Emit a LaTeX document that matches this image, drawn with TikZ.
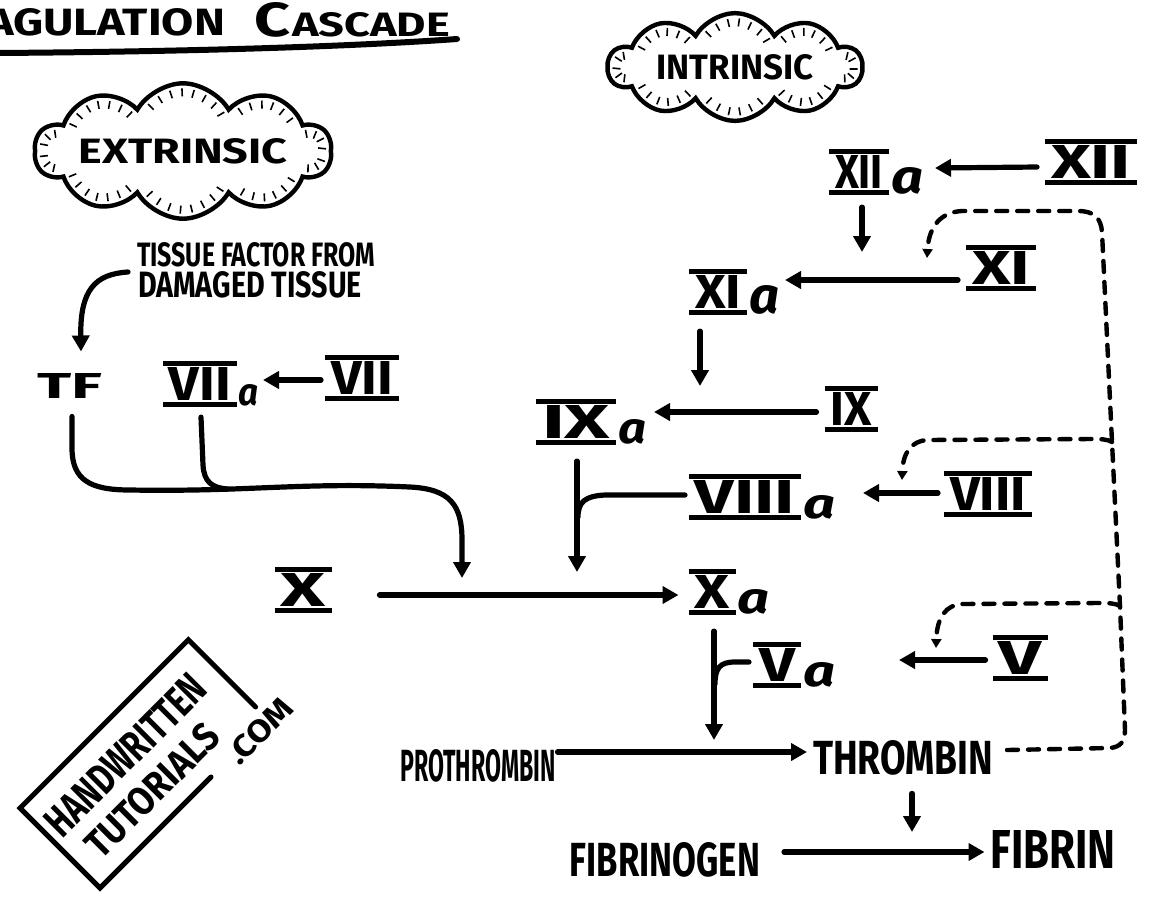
\documentclass[tikz,border=0pt]{standalone}
\usepackage{fontspec}
\setmainfont{Fira Sans}
\usetikzlibrary{arrows.meta,shapes.symbols,decorations.pathreplacing,calc}

% text squeezed into a box of given width and cap height
\newcommand\fit[3]{\resizebox{#1}{#2}{\bfseries #3}}
% roman numeral between two bars: bar width, letters
\newcommand\rmn[2]{\vbox{\hrule width #1 height 2.6pt\kern0.7pt\hbox to #1{\hss\resizebox{\dimexpr#1-6pt\relax}{16.5pt}{\bfseries #2}\hss}\kern0.7pt\hrule width #1 height 2.6pt}}
% activated factor: barred numeral, then a small "a" of given width and height
\newcommand\act[4]{\rmn{#1}{#2}\kern1pt\raisebox{1pt}{\resizebox{#3}{#4}{\bfseries\itshape a}}}

\begin{document}
\begin{tikzpicture}[x=0.5pt,y=-0.5pt,
  txt/.style={inner sep=0pt, outer sep=0pt},
  flow/.style={line width=2.6pt, line cap=round, -{Triangle[length=8pt,width=8.5pt]}},
  link/.style={line width=2.6pt, line cap=round},
  fb/.style={line width=2.2pt, line cap=round, dash pattern=on 5.5pt off 5pt, -{Triangle[length=4.5pt,width=5pt]}},
  cloudy/.style={cloud, cloud puffs=10, cloud puff arc=120, draw, line width=2.2pt, inner sep=0pt,
    postaction={decorate, draw, line width=0.8pt, decoration={ticks, segment length=7pt, amplitude=2pt, raise=4.5pt}}}]
\useasboundingbox (0,0) rectangle (1163,896);
\clip (0,0) rectangle (1163,896);

% heading
\node[txt, anchor=base west] (ttlA) at (-14,35) {\fit{119.5pt}{13.5pt}{AGULATION}};
\node[txt, anchor=base west] (ttlB) at (254,36) {\fit{18pt}{17pt}{C}\kern1pt\fit{79pt}{12pt}{ASCADE}};
\draw[line width=3pt, line cap=round] (-5,53) .. controls (150,52) and (330,48) .. (457,39);

% pathway clouds
\node[cloudy, aspect=3.4, minimum width=128pt, minimum height=36pt] (ext) at (183,151) {\fit{104.5pt}{12.5pt}{EXTRINSIC}};
\node[cloudy, aspect=3.1, minimum width=127pt, minimum height=38pt] (int) at (735,67) {\fit{78.5pt}{12.5pt}{INTRINSIC}};

% extrinsic branch
\node[txt, anchor=west] (tf1) at (137,255) {\fit{119pt}{12pt}{TISSUE FACTOR FROM}};
\node[txt, anchor=west] (tf2) at (138,285) {\fit{112pt}{13pt}{DAMAGED TISSUE}};
\node[txt] (TF) at (70,386) {\fit{32.5pt}{12.5pt}{TF}};
\node[txt] (VIIa) at (211,384) {\act{37pt}{VII}{10pt}{10.5pt}};
\node[txt] (VII) at (362,378) {\rmn{37pt}{VII}};

% intrinsic branch
\node[txt] (XIIa) at (876,172) {\act{30pt}{XII}{16pt}{13pt}};
\node[txt] (XII) at (1091,162) {\rmn{46pt}{XII}};
\node[txt] (XIa) at (734,292) {\act{29pt}{XI}{15pt}{14pt}};
\node[txt] (XI) at (1001,268) {\rmn{35pt}{XI}};
\node[txt] (IXa) at (591,422) {\act{40pt}{IX}{14pt}{12pt}};
\node[txt] (IX) at (851,409) {\rmn{26.5pt}{IX}};
\node[txt] (VIIIa) at (762,497) {\act{56pt}{VIII}{16pt}{11.5pt}};
\node[txt] (VIII) at (988,494) {\rmn{44pt}{VIII}};

% common pathway
\node[txt] (X) at (303,590) {\rmn{28.5pt}{X}};
\node[txt] (Xa) at (729,592) {\act{23.5pt}{X}{16pt}{12pt}};
\node[txt] (Va) at (794,665) {\act{24pt}{V}{16pt}{12pt}};
\node[txt] (V) at (1020,658) {\rmn{27.5pt}{V}};
\node[txt] (PRO) at (478,766) {\fit{77.5pt}{16pt}{PROTHROMBIN}};
\node[txt] (THR) at (903,758) {\fit{90pt}{17pt}{THROMBIN}};
\node[txt] (FGN) at (665,860) {\fit{95pt}{17pt}{FIBRINOGEN}};
\node[txt] (FIB) at (1053,849) {\fit{62.5pt}{19pt}{FIBRIN}};

% targets on the conversion arrows
\coordinate (k1) at (862,252);
\coordinate (k2) at (700,386);
\coordinate (k3) at (577,572);
\coordinate (k4) at (462,578);
\coordinate (k5) at (714,740);
\coordinate (k6) at (927,258);
\coordinate (k7) at (902,480);
\coordinate (k8) at (936,648);
\coordinate (k9) at (912,832);
\coordinate (j2) at (1112,442);
\coordinate (j3) at (1120,606);

% extrinsic arrows
\draw[flow] ($(tf2.west)+(-10,-13)$) .. controls (95,274) and (80,290) .. ($(TF.north)+(11,-22)$);
\draw[flow] ($(VII.west)+(-4,2)$) -- ($(VIIa.east)+(4,-4)$);
\draw[flow] ($(TF.south)+(2,18)$) -- (72,448) .. controls (72,480) and (90,490) .. (130,490)
   .. controls (250,492) and (300,482) .. (410,487) .. controls (450,489) and (462,505) .. (462,540) -- (k4);
\draw[link] ($(VIIa.south -| VIIa.west)+(38,10)$) -- (203,465) .. controls (204,482) and (212,488) .. (228,489);

% intrinsic arrows
\draw[flow] ($(XII.west)+(-8,5)$) -- ($(XIIa.east)+(12,-4)$);
\draw[flow] ($(XIIa.south -| k1)+(0,12)$) -- (k1);
\draw[flow] ($(XI.west)+(-8,12)$) -- ($(XIa.east)+(6,-12)$);
\draw[flow] ($(XIa.south -| k2)+(0,16)$) -- (k2);
\draw[flow] ($(IX.west)+(-8,3)$) -- ($(IXa.east)+(8,-10)$);
\draw[flow] ($(IXa.south -| k3)+(0,16)$) -- (k3);
\draw[link] ($(VIIIa.west)+(-4,-2)$) -- ($(VIIIa.west -| k3)+(28,-2)$)
   .. controls +(-20,1) and +(0,-15) .. ($(VIIIa.west -| k3)+(1,20)$);
\draw[flow] ($(VIII.west)+(-6,-1)$) -- ($(VIIIa.east)+(28,-4)$);

% common pathway arrows
\draw[flow] ($(X.east)+(48,5)$) -- ($(Xa.west)+(-10,3)$);
\draw[flow] ($(Xa.south -| k5)+(0,16)$) -- (k5);
\draw[link] ($(Va.west)+(-4,-3)$) -- (735,662) .. controls (720,662) and (715,668) .. (715,684);
\draw[flow] ($(V.west)+(-7,2)$) -- ($(Va.east)+(64,-5)$);
\draw[flow] ($(PRO.east)+(2,-14)$) -- ($(THR.west)+(-6,-6)$);
\draw[flow] ($(THR.south -| k9)+(0,18)$) -- (k9);
\draw[flow] ($(FGN.east)+(24,-8)$) -- ($(FIB.west)+(-6,3)$);

% thrombin feedback
\draw[fb] ($(THR.east)+(14,-8)$) -- (1110,748) .. controls (1120,747) and (1125,742) .. (1125,730)
   -- (j3) -- (j2) -- (1102,232) .. controls (1101,218) and (1094,211) .. (1078,211)
   -- (962,211) .. controls (942,212) and (929,225) .. (k6);
\draw[fb] (j2) .. controls (1107,439) and (1100,439) .. (1092,439) -- (927,440)
   .. controls (912,441) and (903,452) .. (k7);
\draw[fb] (j3) .. controls (1115,603) and (1108,603) .. (1098,603) -- (962,604)
   .. controls (946,605) and (937,617) .. (k8);

% stamp
\begin{scope}[shift={(100,888)}, rotate=45]
  \draw[line width=2.5pt, line cap=round] (157,0) -- (0,0) -- (0,-113) -- (238,-113) -- (238,-18);
  \node[txt, rotate=45] (wm1) at (112,-76) {\fit{104pt}{15pt}{HANDWRITTEN}};
  \node[txt, rotate=45] (wm2) at (106,-32) {\fit{86pt}{14pt}{TUTORIALS}};
  \node[txt, rotate=45] (wm3) at (224,2) {\fit{40pt}{11pt}{.COM}};
\end{scope}
\end{tikzpicture}
\end{document}
